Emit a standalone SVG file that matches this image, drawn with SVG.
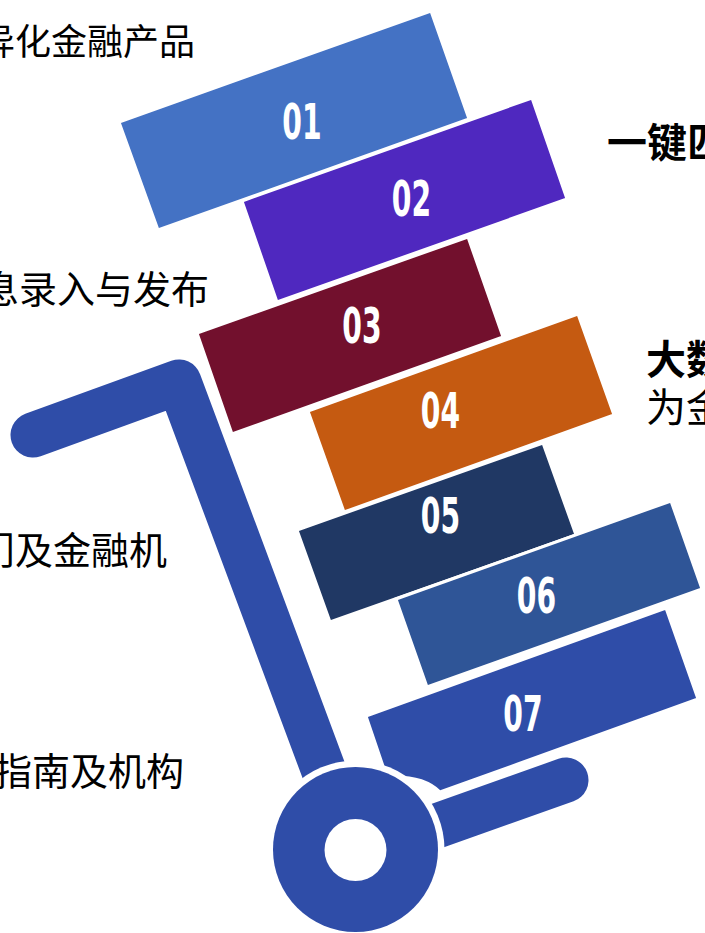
<svg xmlns="http://www.w3.org/2000/svg" width="705" height="933" viewBox="0 0 705 933">
<style>
.box{stroke:#fff;stroke-width:3;stroke-linejoin:miter}
.num{font-family:"DejaVu Sans Condensed","DejaVu Sans",sans-serif;font-weight:bold;font-size:49px;fill:#fff;text-anchor:middle}
.lt{font-family:"Noto Sans CJK SC","Noto Sans",sans-serif;font-size:38px;fill:#000;text-anchor:end}
.rt{font-family:"Noto Sans CJK SC","Noto Sans",sans-serif;font-size:40px;fill:#000}
.bold{font-weight:bold}
.cart{fill:none;stroke:#2F4DA8;stroke-linecap:round;stroke-linejoin:round}
</style>
<rect width="705" height="933" fill="#fff"/>
<g id="cart-frame">
<path class="cart" d="M33,435 L179,382 L353,849" stroke-width="45"/>
<path class="cart" d="M355,855 L566,780" stroke-width="45"/>
</g>
<g id="node-01">
<polygon class="box" points="119,122 431,11 469,119 158,230" fill="#4472C4"/>
<text class="num" transform="translate(302,139) scale(0.64,1)">01</text>
</g>
<g id="node-02">
<polygon class="box" points="242,201 532,98 567,199 277,302" fill="#4F28BF"/>
<text class="num" transform="translate(411.5,216) scale(0.64,1)">02</text>
</g>
<g id="node-03">
<polygon class="box" points="197,333 468,237 503,337 232,434" fill="#72102D"/>
<text class="num" transform="translate(362,343) scale(0.64,1)">03</text>
</g>
<g id="node-04">
<polygon class="box" points="308,411 578,314 614,415 344,512" fill="#C55A11"/>
<text class="num" transform="translate(440.5,428) scale(0.64,1)">04</text>
</g>
<g id="node-05">
<polygon class="box" points="297,530 543,443 576,535 330,622" fill="#203864"/>
<text class="num" transform="translate(440.5,533) scale(0.64,1)">05</text>
</g>
<g id="node-06">
<polygon class="box" points="396,599 671,501 702,589 427,687" fill="#2F5597"/>
<text class="num" transform="translate(536.5,613) scale(0.64,1)">06</text>
</g>
<g id="node-07">
<path class="box" d="M366,716 L666,608 L698,699 L440,792 Q425,777 395,777 L385,772 Z" fill="#2F4DA8"/>
<text class="num" transform="translate(523,731) scale(0.64,1)">07</text>
</g>
<g id="cart-wheel">
<circle cx="355.5" cy="849.5" r="89" fill="#fff"/>
<circle cx="355.5" cy="849.5" r="82.5" fill="#2F4DA8"/>
<circle cx="355.5" cy="850" r="31" fill="#fff"/>
</g>
<g id="labels">
<text class="lt" x="195" y="55" style="font-size:36px">异化金融产品</text>
<text class="lt" x="209" y="303">息录入与发布</text>
<text class="lt" x="167" y="564">门及金融机</text>
<text class="lt" x="184" y="785">指南及机构</text>
<text class="rt bold" x="607" y="157">一键匹</text>
<text class="rt bold" x="646" y="374">大数</text>
<text class="rt" x="646" y="422">为金</text>
</g>
</svg>
